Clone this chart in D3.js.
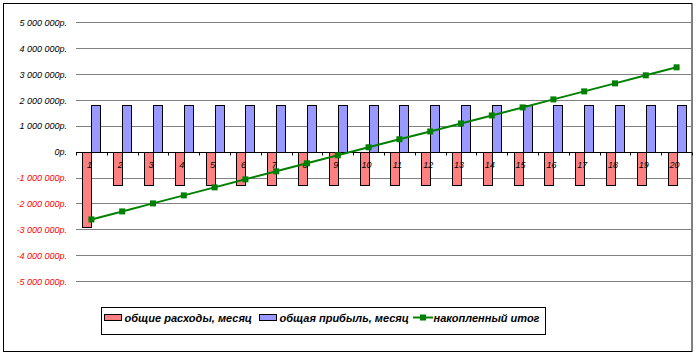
<!DOCTYPE html>
<html><head><meta charset="utf-8">
<script src="https://cdn.jsdelivr.net/npm/d3@7"></script>
<style>body{margin:0;background:#fff}svg{display:block}text{font-family:"Liberation Sans",Arial,sans-serif}</style>
</head><body><svg id="c" width="696" height="356"></svg>
<script>
const months = ["1","2","3","4","5","6","7","8","9","10","11","12","13","14","15","16","17","18","19","20"];
const expenses = [-2930000,-1300000,-1300000,-1300000,-1300000,-1300000,-1300000,-1300000,-1300000,-1300000,-1300000,-1300000,-1300000,-1300000,-1300000,-1300000,-1300000,-1300000,-1300000,-1300000];
const income = [1820000,1820000,1820000,1820000,1820000,1820000,1820000,1820000,1820000,1820000,1820000,1820000,1820000,1820000,1820000,1820000,1820000,1820000,1820000,1820000];
const cumulative = [-2620000,-2310000,-2000000,-1690000,-1380000,-1070000,-760000,-450000,-140000,170000,480000,780000,1090000,1400000,1710000,2020000,2330000,2640000,2950000,3260000];
const yTicks = [5000000,4000000,3000000,2000000,1000000,0,-1000000,-2000000,-3000000,-4000000,-5000000];
const seriesNames = ["общие расходы, месяц","общая прибыль, месяц","накопленный итог"];
const colors = ["#FF8080","#9999FF","#008000"];

const svg = d3.select("#c");
svg.append("rect").attr("x",3.5).attr("y",3.5).attr("width",688.5).attr("height",348).attr("fill","#fff").attr("stroke","#000").attr("stroke-width",1);

const x0 = d3.scaleBand().domain(months).range([76,692]).paddingInner(0).paddingOuter(0);
const x1 = d3.scaleBand().domain(["exp","inc"]).range([0,x0.bandwidth()]).paddingInner(0).paddingOuter(0.71);
const y = d3.scaleLinear().domain([-5000000,5000000]).range([281,22.3]);

const loc = d3.formatLocale({decimal:",",thousands:"\u00a0",grouping:[3],currency:["","р."],minus:"-"});
const fmt = v => loc.format(",")(v) + "р.";

// gridlines
svg.append("g").selectAll("line").data(yTicks.filter(d=>d!==0)).join("line")
  .attr("x1",76).attr("x2",692).attr("y1",d=>Math.round(y(d))+0.5).attr("y2",d=>Math.round(y(d))+0.5)
  .attr("stroke","#808080").attr("stroke-width",1);

// y labels
const yAxis = svg.append("g").attr("transform","translate(67,0)")
  .call(d3.axisLeft(y).tickValues(yTicks).tickFormat(fmt).tickSize(0).tickPadding(0));
yAxis.select(".domain").remove();
yAxis.selectAll("text").attr("font-size",9).attr("font-style","italic").attr("font-family","Liberation Sans, Arial, sans-serif")
  .attr("fill",d=>d<0?"#FF0000":"#000").attr("dy","0.35em");

// bars
const data = months.map((m,i)=>({m,exp:expenses[i],inc:income[i]}));
const g = svg.append("g");
g.selectAll("rect.exp").data(data).join("rect").attr("class","exp")
  .attr("x",d=>Math.round(x0(d.m)+x1("exp"))+0.5).attr("width",Math.round(x1.bandwidth()))
  .attr("y",Math.round(y(0))+0.5).attr("height",d=>Math.round(y(d.exp))-Math.round(y(0)))
  .attr("fill",colors[0]).attr("stroke","#000").attr("stroke-width",1);
g.selectAll("rect.inc").data(data).join("rect").attr("class","inc")
  .attr("x",d=>Math.round(x0(d.m)+x1("inc"))+0.5).attr("width",Math.round(x1.bandwidth()))
  .attr("y",d=>Math.round(y(d.inc))+0.5).attr("height",d=>Math.round(y(0))-Math.round(y(d.inc)))
  .attr("fill",colors[1]).attr("stroke","#000").attr("stroke-width",1);

// zero axis
const y0 = Math.round(y(0))+0.5;
svg.append("line").attr("x1",76).attr("x2",692).attr("y1",y0).attr("y2",y0).attr("stroke","#000");
const bounds = months.map(m=>x0(m)).concat([x0.range()[1]]);
svg.append("g").selectAll("line").data(bounds).join("line")
  .attr("x1",d=>Math.round(d)+0.5).attr("x2",d=>Math.round(d)+0.5).attr("y1",y0).attr("y2",y0+3)
  .attr("stroke","#000");
const xAxis = svg.append("g").attr("transform",`translate(-2,${y0})`)
  .call(d3.axisBottom(x0).tickSize(0).tickPadding(9));
xAxis.select(".domain").remove();
xAxis.selectAll("text").attr("font-size",9).attr("font-style","italic").attr("fill","#000").attr("font-family","Liberation Sans, Arial, sans-serif").attr("dy","0.71em");

// line
const line = d3.line().x((d,i)=>x0(months[i])+x0.bandwidth()/2).y(d=>y(d));
svg.append("path").datum(cumulative).attr("d",line).attr("fill","none").attr("stroke",colors[2]).attr("stroke-width",2);
svg.append("g").selectAll("rect").data(cumulative).join("rect")
  .attr("x",(d,i)=>x0(months[i])+x0.bandwidth()/2-3).attr("y",d=>y(d)-3).attr("width",6).attr("height",6).attr("fill",colors[2]);

// legend
const lg = svg.append("g");
lg.append("rect").attr("x",101.5).attr("y",307.5).attr("width",444).attr("height",27).attr("fill","#fff").attr("stroke","#000");
const lx = [104,259,413];
const tx = [124.5,279.5,433.5];
lg.append("rect").attr("x",lx[0]+0.5).attr("y",314.5).attr("width",17).attr("height",6).attr("fill",colors[0]).attr("stroke","#000");
lg.append("rect").attr("x",lx[1]+0.5).attr("y",314.5).attr("width",17).attr("height",6).attr("fill",colors[1]).attr("stroke","#000");
lg.append("line").attr("x1",lx[2]).attr("x2",lx[2]+20).attr("y1",317.5).attr("y2",317.5).attr("stroke",colors[2]).attr("stroke-width",2);
lg.append("rect").attr("x",lx[2]+7).attr("y",314.5).attr("width",6).attr("height",6).attr("fill",colors[2]);
lg.selectAll("text").data(seriesNames).join("text")
  .attr("x",(d,i)=>tx[i]).attr("y",321.5).text(d=>d)
  .attr("font-size",11).attr("font-weight","bold").attr("font-style","italic").attr("fill","#000");
</script></body></html>
